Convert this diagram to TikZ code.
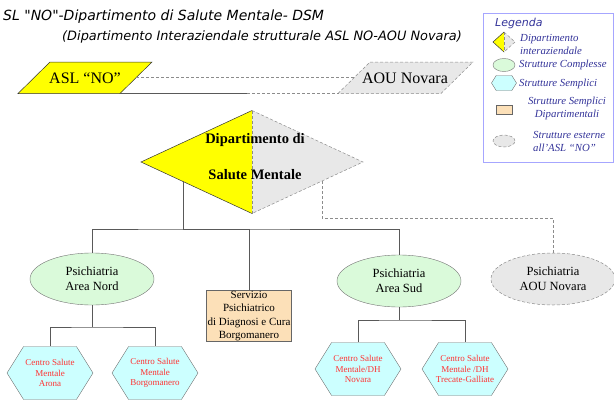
\documentclass[tikz,border=0pt]{standalone}
\usepackage{fontspec}
\setmainfont{Liberation Serif}
\newfontfamily\titlefont{DejaVu Sans}
\usetikzlibrary{calc,shapes.geometric,shapes.symbols}
\definecolor{dipyellow}{RGB}{255,255,0}
\definecolor{extgray}{RGB}{232,232,232}
\definecolor{complgreen}{RGB}{218,250,218}
\definecolor{semplcyan}{RGB}{204,255,255}
\definecolor{dippeach}{RGB}{252,224,184}
\definecolor{legnavy}{RGB}{51,51,153}
\definecolor{csmred}{RGB}{255,51,51}
\tikzstyle{conn}      =[draw=black!65,line width=0.5pt]
\tikzstyle{extline}   =[draw=black!45,line width=0.5pt,dash pattern=on 3pt off 2pt]
\tikzstyle{complessa} =[ellipse,draw=black!55,fill=complgreen,align=center,inner sep=0pt,
                        font=\fontsize{12.5}{15}\selectfont,minimum width=124pt,minimum height=52pt]
\tikzstyle{esterna}   =[complessa,extline,fill=extgray]
\tikzstyle{semplice}  =[signal,signal to=west and east,signal pointer angle=116,draw=black!55,
                        fill=semplcyan,inner sep=0pt,minimum width=86pt,minimum height=53pt]
\tikzstyle{csmtext}   =[text=csmred,align=center,font=\fontsize{9}{10.7}\selectfont]
\tikzstyle{dipbox}    =[rectangle,draw=black!60,fill=dippeach,align=center,inner sep=0pt,
                        font=\fontsize{11}{13.3}\selectfont,minimum width=85pt,minimum height=51pt]
\tikzstyle{legtext}   =[text=legnavy,inner sep=0pt,font=\fontsize{10.8}{13}\selectfont\itshape]
\newcommand\splitdiamond[4]{{
  \coordinate (#1N) at ($(#2)+(0,-#4)$);
  \coordinate (#1E) at ($(#2)+(#3,0)$);
  \coordinate (#1S) at ($(#2)+(0,#4)$);
  \coordinate (#1W) at ($(#2)+(-#3,0)$);
  % yellow half (ASL)
  \fill[dipyellow] (#1N) -- (#1W) -- (#1S) -- cycle;
  \draw[black!80,line width=0.5pt] (#1N) -- (#1W) -- (#1S);
  % grey half (AOU)
  \fill[extgray] (#1N) -- (#1E) -- (#1S) -- cycle;
  \draw[extline] (#1N) -- (#1E) -- (#1S);
  \draw[extline] (#1N) -- (#1S);
}}
\begin{document}
\begin{tikzpicture}[x=1pt,y=-1pt]
  \useasboundingbox (0,0) rectangle (614,402);

  % Titles
  \node[anchor=base west,inner sep=0pt,font=\titlefont\itshape\fontsize{14}{16}\selectfont]
    (title) at (3,20) {SL "NO"-Dipartimento di Salute Mentale- DSM};
  \node[anchor=base west,inner sep=0pt,font=\titlefont\itshape\fontsize{12.9}{15}\selectfont]
    (subtitle) at (62,40) {(Dipartimento Interaziendale strutturale ASL NO-AOU Novara)};

  % Aziende
  \coordinate (aslSW) at (18,93.5);
  \coordinate (aslNW) at (50,62);
  \coordinate (aslNE) at (152,62);
  \coordinate (aslSE) at (120,93.5);
  \draw[black!80,line width=0.5pt,fill=dipyellow]
    (aslSW) -- (aslNW) -- (aslNE) -- (aslSE) -- cycle;
  \node[font=\fontsize{16}{18}\selectfont] (asl) at (85,78) {ASL “NO”};
  \coordinate (aouSW) at (338,93.5);
  \coordinate (aouNW) at (370,62);
  \coordinate (aouNE) at (473,62);
  \coordinate (aouSE) at (441,93.5);
  \draw[extline,fill=extgray]
    (aouSW) -- (aouNW) -- (aouNE) -- (aouSE) -- cycle;
  \node[font=\fontsize{16}{18}\selectfont] (aou) at (405,78) {AOU Novara};
  \coordinate (aslE) at (136,77.5);
  \coordinate (aouW) at (354,77.5);
  \coordinate (linkmid) at (247,93.5);
  \draw[extline] (aslE) -- (aouW);
  \draw[conn] (aslSE) -- (linkmid);
  \draw[extline] (linkmid) -- (aouSW);

  % Dipartimento
  \splitdiamond{dip}{252,162}{111}{51.5}
  \node[align=center,font=\fontsize{14.5}{36}\selectfont\bfseries]
    (dip) at (255,157) {Dipartimento di\\Salute Mentale};

  % Strutture
  \node[complessa] (nord) at (92,279) {Psichiatria\\Area Nord};
  \node[complessa] (sud) at (399,281) {Psichiatria\\Area Sud};
  \node[esterna] (aouPsi) at (553,279) {Psichiatria\\AOU Novara};
  \node[dipbox] (spdc) at (249,316)
    {Servizio\\Psichiatrico\\di Diagnosi e Cura\\Borgomanero};
  \node[semplice,label={[csmtext]center:Centro Salute\\Mentale\\Arona}]
    (csmArona) at (50,373) {};
  \node[semplice,label={[csmtext]center:Centro Salute\\Mentale\\Borgomanero}]
    (csmBorgo) at (155,373) {};
  \node[semplice,label={[csmtext]center:Centro Salute\\Mentale/DH\\Novara}]
    (csmNovara) at (358,369) {};
  \node[semplice,label={[csmtext]center:Centro Salute\\Mentale /DH\\Trecate-Galliate}]
    (csmTrecate) at (465,369) {};

  % Connections
  \coordinate (dipL) at (183,181);
  \coordinate (dipbus) at (183,229);
  \draw[conn] (dipL) -- (dipbus);
  \draw[conn] (nord.north) |- (dipbus) -| (sud.north);
  \draw[conn] (spdc.north) |- (dipbus);
  \coordinate (dipR) at (322,181);
  \coordinate (extbus) at (322,218);
  \draw[extline] (dipR) -- (extbus) -| (aouPsi.north);
  \coordinate (nordbus) at (92,327);
  \draw[conn] (nord.south) -- (nordbus);
  \draw[conn] (csmArona.north) |- (nordbus) -| (csmBorgo.north);
  \coordinate (sudbus) at (399,320);
  \draw[conn] (sud.south) -- (sudbus);
  \draw[conn] (csmNovara.north) |- (sudbus) -| (csmTrecate.north);

  % Legenda
  \draw[blue!35,line width=0.6pt] (483,13) rectangle (613,162);
  \node[anchor=base west,inner sep=0pt,text=legnavy,font=\titlefont\itshape\fontsize{11}{13}\selectfont]
    (legenda) at (495,26) {Legenda};
  \splitdiamond{lgd}{504,42}{11}{10}
  \node[legtext,anchor=west,align=left] (legDip) at (520,44.5) {Dipartimento\\interaziendale};
  \node[complessa,minimum width=22pt,minimum height=13pt] (legCompl) at (504,65) {};
  \node[legtext,anchor=west] (legComplT) at (519,64.5) {Strutture Complesse};
  \node[semplice,minimum width=25pt,minimum height=15pt] (legSempl) at (504,83) {};
  \node[legtext,anchor=west] (legSemplT) at (519,84) {Strutture Semplici};
  \node[dipbox,minimum width=16pt,minimum height=9pt] (legDipS) at (504,110) {};
  \node[legtext,align=center] (legDipST) at (567,108) {Strutture Semplici\\Dipartimentali};
  \node[esterna,minimum width=22pt,minimum height=12pt] (legExt) at (504,141) {};
  \node[legtext,anchor=west,align=left] (legExtT) at (533,141.5) {Strutture esterne\\all’ASL “NO”};
\end{tikzpicture}
\end{document}
